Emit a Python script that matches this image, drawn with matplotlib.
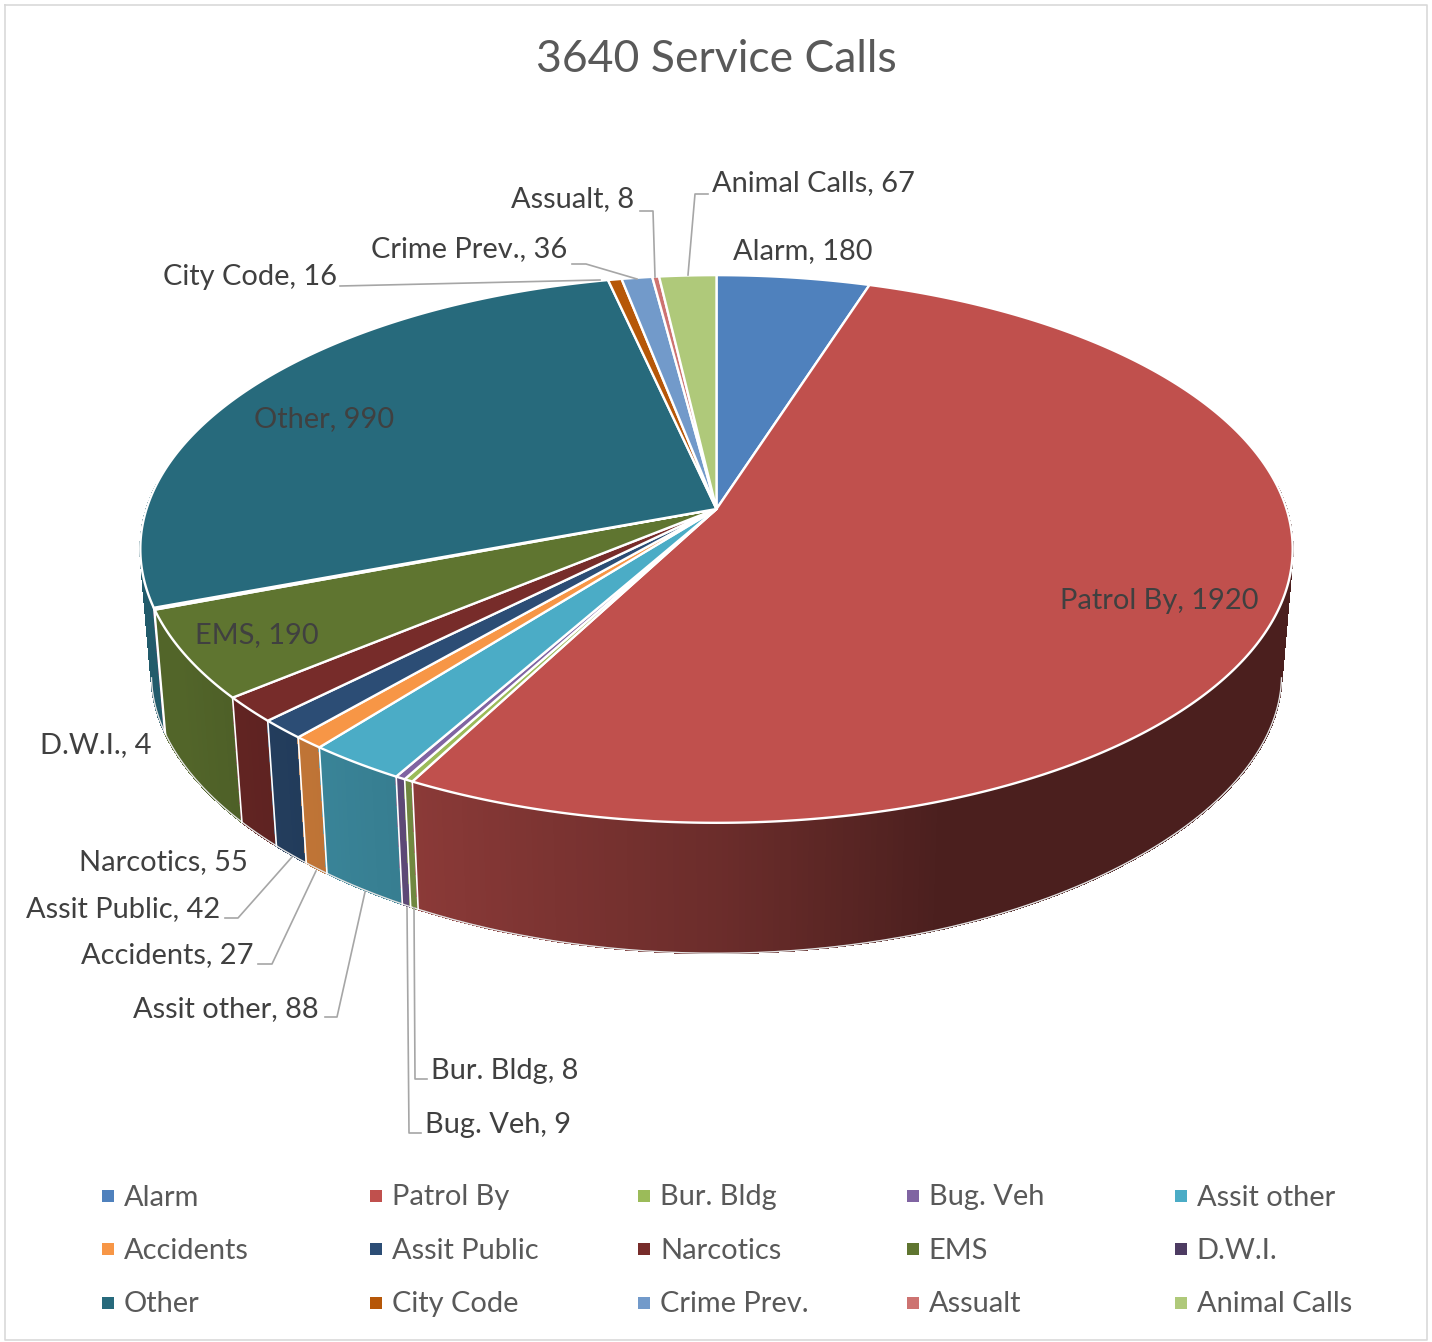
import numpy as np
import matplotlib.pyplot as plt
from matplotlib.collections import PolyCollection
from matplotlib.colors import to_rgb

plt.rcParams['font.family'] = ['Lato', 'DejaVu Sans']

# Dados
categorias = ['Alarm', 'Patrol By', 'Bur. Bldg', 'Bug. Veh', 'Assit other',
              'Accidents', 'Assit Public', 'Narcotics', 'EMS', 'D.W.I.',
              'Other', 'City Code', 'Crime Prev.', 'Assualt', 'Animal Calls']
valores = [180, 1920, 8, 9, 88, 27, 42, 55, 190, 4, 990, 16, 36, 8, 67]
cores = ['#4F81BD', '#C0504D', '#9BBB59', '#8064A2', '#4BACC6',
         '#F79646', '#2C4D75', '#772C2A', '#5F7530', '#4D3B62',
         '#276A7C', '#B65708', '#729ACA', '#CD7371', '#AFC97A']
titulo = '3640 Service Calls'

# Posição de cada rótulo (centro, em pixels da imagem)
pos_rotulos = [(803, 251), (1159, 601), (505, 1071), (498, 1125), (226, 1009),
               (167, 955), (123, 909), (163, 862), (257, 635), (96, 745),
               (324, 419), (250, 277), (469, 249), (573, 199), (813, 183)]

# Linhas de chamada dos rótulos externos
guias = {
    'Bur. Bldg': [(414, 908), (415, 1079), (427, 1079)],
    'Bug. Veh': [(407, 908), (409, 1133), (421, 1133)],
    'Assit other': [(365, 892), (337, 1017), (325, 1017)],
    'Accidents': [(316, 871), (272, 964), (258, 964)],
    'Assit Public': [(292, 857), (238, 918), (225, 918)],
    'City Code': [(600, 280), (340, 286)],
    'Crime Prev.': [(637, 279), (586, 264), (572, 264)],
    'Assualt': [(655, 277), (653, 211), (640, 211)],
    'Animal Calls': [(688, 275), (695, 194), (708, 194)],
}

cx, cy = 716.5, 509  # vértice do disco


# Projeção em perspectiva do disco (ângulo em graus, horário a partir do topo)
def topo(t):
    u, v = np.sin(np.radians(t)), np.cos(np.radians(t))
    w = 1 + 0.146 * v
    return cx + 570 * u / w, cy - 268 * v / w


def base(t):
    u, v = np.sin(np.radians(t)), np.cos(np.radians(t))
    return cx + 559 * u / (1 + 0.146 * v), 637 - 253 * v / (1 + 0.2 * v)


# Escurecimento da lateral conforme o ângulo
def sombra(t):
    return np.interp(t, [0, 160, 180, 207, 240, 360],
                     [0.39, 0.39, 0.56, 0.72, 0.86, 0.88])


fig = plt.figure(figsize=(14.32, 13.42), dpi=100)
ax = fig.add_axes([0, 0, 1, 1])
ax.set_xlim(0, 1432)
ax.set_ylim(1342, 0)
ax.axis('off')

# Moldura
ax.plot([5, 1427, 1427, 5, 5], [5, 5, 1340, 1340, 5], color='#D9D9D9', lw=1.2)

limites = np.concatenate([[0], np.cumsum(valores)]) * 360 / sum(valores)

# Lateral do disco, em fatias finas (só a metade da frente aparece)
quads, cores_quads = [], []
for i, cor in enumerate(cores):
    n = max(int((limites[i + 1] - limites[i]) * 2), 1)
    tt = np.linspace(limites[i], limites[i + 1], n + 1)
    for a, b in zip(tt[:-1], tt[1:]):
        if 85 < (a + b) / 2 < 275:
            quads.append([topo(a), topo(b), base(b), base(a)])
            cores_quads.append(tuple(c * sombra((a + b) / 2) for c in to_rgb(cor)))
ordem = sorted(range(len(quads)), key=lambda k: quads[k][0][1])
ax.add_collection(PolyCollection([quads[k] for k in ordem],
                                 facecolors=[cores_quads[k] for k in ordem],
                                 edgecolors=[cores_quads[k] for k in ordem],
                                 linewidths=0.8, antialiaseds=False, zorder=2))

# Contorno inferior
tt = np.linspace(99, 261, 300)
ax.plot(*base(tt), color='#E4E4E4', lw=1.0, zorder=2.5)

# Divisões brancas da lateral (só na frente)
for t in limites[:-1]:
    if 150 < t < 275:
        xa, ya = topo(t)
        xb, yb = base(t)
        ax.plot([xa, xb], [ya, yb], color='white', lw=1.2, zorder=3)

# Topo do disco
for i, cor in enumerate(cores):
    tt = np.linspace(limites[i], limites[i + 1], max(int(limites[i + 1] - limites[i]) * 2, 2))
    x, y = topo(tt)
    ax.fill(np.r_[cx, x], np.r_[cy, y], facecolor=cor,
            edgecolor='white', lw=1.7, joinstyle='round', zorder=4)

# Linhas de chamada
for nome, pts in guias.items():
    ax.plot([p[0] for p in pts], [p[1] for p in pts], color='#A6A6A6', lw=1.2, zorder=5)

# Rótulos
for nome, val, (x, y) in zip(categorias, valores, pos_rotulos):
    ax.text(x, y, f'{nome}, {val}', fontsize=20.9, color='#404040',
            ha='center', va='center', zorder=6)

ax.text(716, 60, titulo, fontsize=32, color='#595959', ha='center', va='center')

# Legenda
for i, (nome, cor) in enumerate(zip(categorias, cores)):
    lin, col = divmod(i, 5)
    xl = 108 + 268.2 * col
    yl = 1196 + 53.3 * lin
    ax.plot(xl, yl, marker='s', ms=8.5, color=cor, mew=0)
    ax.text(xl + 16, yl + 1.5, nome, fontsize=20.9, color='#595959', ha='left', va='center')

fig.savefig('out.png', dpi=100)
